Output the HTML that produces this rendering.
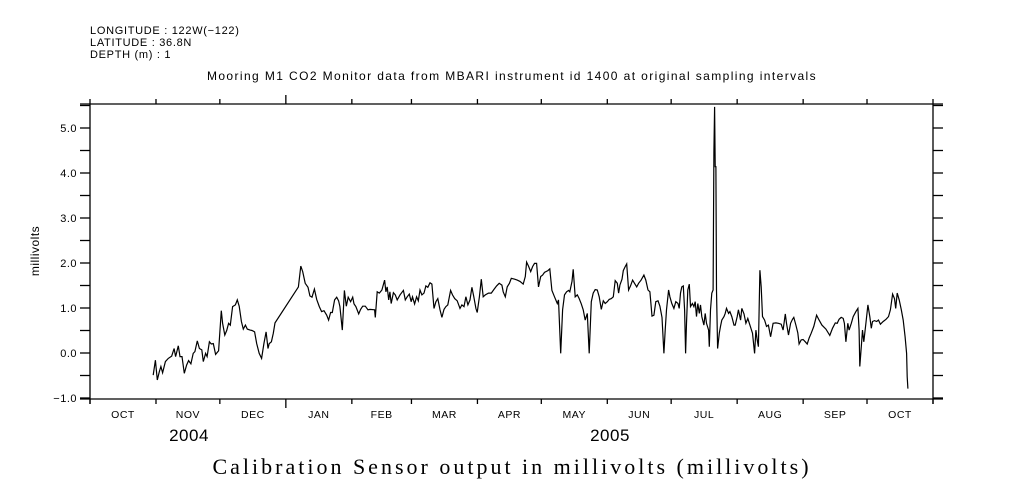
<!DOCTYPE html>
<html><head><meta charset="utf-8"><style>
html,body{margin:0;padding:0;background:#fff;width:1009px;height:504px;overflow:hidden}
svg{display:block}
text{font-family:"Liberation Sans",sans-serif;fill:#000}
</style></head><body>
<svg id="chart" width="1009" height="504" viewBox="0 0 1009 504">
<g font-size="11" letter-spacing="0.7">
<text x="90" y="34">LONGITUDE : 122W(−122)</text>
<text x="90" y="46">LATITUDE : 36.8N</text>
<text x="90" y="58">DEPTH (m) : 1</text>
</g>
<text x="512" y="80" font-size="12" text-anchor="middle" letter-spacing="1.4">Mooring M1 CO2 Monitor data from MBARI instrument id 1400 at original sampling intervals</text>
<text transform="translate(39,251) rotate(-90)" font-size="12" text-anchor="middle" letter-spacing="0.5">millivolts</text>
<text x="512" y="474" font-size="22" text-anchor="middle" style="font-family:'Liberation Serif',serif" letter-spacing="3">Calibration Sensor output in millivolts (millivolts)</text>
<text x="189" y="441" font-size="17" text-anchor="middle" letter-spacing="0.5">2004</text>
<text x="610" y="441" font-size="17" text-anchor="middle" letter-spacing="0.5">2005</text>
<g id="axes"></g>
<path id="series" fill="none" stroke="#000" stroke-width="1.2"/>
</svg>
<script>
const monthLabels=["OCT","NOV","DEC","JAN","FEB","MAR","APR","MAY","JUN","JUL","AUG","SEP","OCT"];
const monthStarts=[0,31,61,92,123,151,182,212,243,273,304,335,365,396];
const yTicks=[-1,0,1,2,3,4,5];
const yTickLabels=["-1.0","0.0","1.0","2.0","3.0","4.0","5.0"];
const days=[29.7,30.7,31.6,32.6,33.3,34.1,35.4,36.8,38.4,39.5,40.2,41.5,42.3,43.2,44.3,45.4,46.3,47.4,48.5,49.3,50.4,51.4,52.5,53.2,54.3,55.0,56.1,57.0,57.9,59.0,60.4,61.7,62.3,63.3,64.2,65.1,65.9,67.0,68.3,69.2,70.1,71.1,72.0,73.0,73.9,75.2,76.1,77.3,78.3,79.5,80.6,81.7,82.7,83.6,84.2,85.2,86.1,86.9,97.9,99.0,99.9,101.1,102.4,103.3,104.3,105.4,106.5,107.7,108.8,109.9,111.2,112.1,113.0,113.8,114.9,115.9,116.8,117.4,118.5,119.5,120.4,121.3,122.4,123.4,124.0,124.9,126.2,127.1,128.1,129.3,130.6,131.5,
133.7,134.0,134.9,135.9,137.1,138.4,139.0,139.6,140.3,140.9,141.5,142.5,143.4,144.3,145.6,147.2,148.1,149.0,150.0,150.9,151.5,152.5,153.4,154.2,155.0,155.9,156.9,157.8,158.7,159.7,160.6,161.6,162.5,163.4,164.4,165.3,166.3,167.2,168.1,169.4,170.3,171.3,172.5,173.8,174.7,175.7,176.6,177.5,178.5,179.4,180.3,181.3,181.9,182.9,183.8,184.7,185.7,187.2,188.5,189.7,191.0,192.2,193.5,194.1,195.1,196.0,197.0,197.9,199.5,200.7,202.0,203.5,204.5,205.1,206.0,207.0,207.9,208.8,209.8,210.7,211.7,212.6,213.5,215.1,216.0,217.0,218.2,219.5,220.1,221.1,222.0,222.9,223.9,224.8,225.4,226.4,227.0,227.9,228.9,229.8,230.8,231.7,232.6,233.6,234.5,235.5,236.4,237.3,238.3,239.2,240.2,241.1,242.0,243.0,243.9,244.9,245.8,246.7,247.7,248.3,248.9,249.9,250.5,251.4,252.1,253.0,253.9,254.9,255.8,256.8,257.7,258.9,260.2,261.1,262.1,263.0,264.0,264.9,265.8,266.8,267.7,268.7,269.6,270.2,270.8,271.8,272.4,
273.3,274.3,275.2,276.2,276.8,277.4,278.0,278.7,279.3,279.8,280.2,280.8,281.5,282.1,283.0,283.7,284.3,284.9,285.5,286.2,286.8,287.4,288.4,289.0,289.6,290.6,290.9,291.5,292.1,292.7,293.1,293.4,293.7,294.0,294.3,294.8,295.6,296.2,296.8,297.8,298.4,299.0,300.0,300.6,301.5,302.5,303.1,304.0,304.6,305.6,306.2,307.2,308.1,309.0,310.0,311.2,312.2,312.8,313.4,314.0,314.7,315.3,315.9,316.9,317.8,318.7,319.7,320.9,322.2,323.4,324.7,325.6,326.6,327.2,328.1,329.1,330.0,330.6,331.6,332.5,333.1,334.1,335.0,336.0,336.9,337.8,338.8,340.0,341.3,342.5,343.8,345.7,347.5,348.8,350.1,351.0,351.9,352.9,353.8,354.4,355.1,356.0,356.6,357.6,358.5,359.8,360.7,361.3,361.6,362.3,362.9,363.5,364.5,365.4,366.3,367.0,367.6,368.5,369.5,370.4,371.3,372.6,373.9,375.1,376.0,377.0,377.9,378.5,379.2,380.1,381.1,382.0,382.9,383.6,383.9,384.2];
const values=[-0.49,-0.16,-0.60,-0.41,-0.30,-0.44,-0.19,-0.12,-0.07,0.10,-0.08,0.16,-0.08,-0.08,-0.45,-0.27,-0.17,-0.24,-0.01,0.03,0.27,0.10,0.07,-0.19,-0.01,-0.08,0.25,0.20,0.21,-0.03,0.05,0.94,0.66,0.40,0.50,0.66,0.62,1.03,1.07,1.18,1.04,0.70,0.53,0.62,0.53,0.51,0.50,0.47,0.21,-0.01,-0.12,0.21,0.47,0.10,0.21,0.25,0.44,0.67,1.47,1.93,1.81,1.55,1.46,1.27,1.24,1.42,1.19,1.03,0.92,0.94,0.84,0.73,0.90,0.90,1.18,1.24,1.16,1.03,0.51,1.39,1.04,1.24,1.14,1.24,1.09,1.03,0.87,0.97,1.04,1.04,0.96,0.97,
0.96,0.79,1.36,1.33,1.40,1.62,1.36,1.47,1.18,1.36,1.10,1.34,1.29,1.18,1.29,1.39,1.18,1.25,1.31,1.14,1.25,1.09,1.25,1.16,1.40,1.29,1.33,1.49,1.46,1.56,1.53,0.99,1.14,1.21,0.96,0.79,0.97,1.03,1.07,1.39,1.29,1.21,1.16,0.99,1.07,1.03,1.25,1.07,1.18,1.46,1.25,0.99,0.90,1.25,1.64,1.25,1.29,1.33,1.33,1.41,1.49,1.55,1.51,1.36,1.25,1.47,1.55,1.66,1.64,1.62,1.59,1.53,1.70,2.02,1.93,1.81,1.92,1.99,1.99,1.47,1.70,1.73,1.79,1.83,1.87,1.39,1.25,1.10,1.18,-0.01,0.96,1.29,1.36,1.39,1.36,1.59,1.86,1.25,1.29,1.21,1.09,0.96,0.73,0.88,-0.01,1.14,1.33,1.41,1.40,1.25,0.97,1.16,1.10,1.14,1.19,1.21,1.25,1.61,1.55,1.33,1.51,1.64,1.83,1.92,1.98,1.40,1.49,1.62,1.55,1.47,1.55,1.62,1.73,1.62,1.40,1.36,0.82,0.84,1.14,1.16,1.04,0.79,-0.01,0.51,0.96,1.40,1.25,
1.10,0.99,1.14,1.10,0.99,1.33,1.47,1.49,0.96,-0.01,0.66,1.40,1.53,1.03,1.10,1.03,1.14,0.81,1.10,0.88,1.07,0.81,0.62,0.88,0.66,0.51,0.14,0.96,1.33,1.40,4.47,5.47,4.14,4.14,1.40,0.10,0.44,0.59,0.73,0.81,0.88,0.99,0.88,0.92,0.81,0.62,0.62,0.81,0.96,0.73,0.99,0.87,0.66,0.77,0.62,0.44,-0.01,0.51,0.29,0.14,1.84,1.47,0.81,0.73,0.59,0.62,0.36,0.66,0.67,0.66,0.64,0.51,0.87,0.66,0.40,0.66,0.75,0.79,0.62,0.45,0.20,0.29,0.30,0.25,0.20,0.33,0.44,0.59,0.84,0.73,0.62,0.53,0.39,0.55,0.67,0.66,0.75,0.79,0.77,0.66,0.25,0.66,0.51,0.66,0.81,0.92,0.99,0.51,-0.30,0.14,0.51,0.25,0.66,1.07,0.81,0.55,0.70,0.72,0.70,0.73,0.64,0.70,0.75,0.81,0.96,1.31,1.21,0.99,1.33,1.18,0.96,0.73,0.36,-0.01,-0.53,-0.79];

const L=90,R=933,T=104,B=399;
const xs=d=>L+d*(R-L)/396;
const ys=v=>353-v*45;
const NS="http://www.w3.org/2000/svg";
const ax=document.getElementById('axes');
function ln(x1,y1,x2,y2,name){const e=document.createElementNS(NS,'line');e.setAttribute('x1',x1);e.setAttribute('y1',y1);e.setAttribute('x2',x2);e.setAttribute('y2',y2);e.setAttribute('stroke','#000');e.setAttribute('stroke-width','1.3');


ax.appendChild(e);}
function tx(x,y,s,anchor,size,name){const e=document.createElementNS(NS,'text');e.setAttribute('x',x);e.setAttribute('y',y);e.setAttribute('text-anchor',anchor);e.setAttribute('font-size',size);e.setAttribute('letter-spacing','0.5');e.textContent=s;


ax.appendChild(e);}
ln(80,T,943,T,'frame-top');ln(80,B,943,B,'frame-bottom');ln(L,T,L,404,'frame-left');ln(R,T,R,404,'frame-right');
monthStarts.forEach((d,i)=>{const x=xs(d);const big=(d===92);
ln(x,T,x,big?95:99,'x-tick-top');ln(x,B,x,big?408:404,'x-tick-bottom');});
monthLabels.forEach((m,i)=>{tx(xs((monthStarts[i]+monthStarts[i+1])/2),418,m,'middle',10.5,'x-tick-label');});
for(let v=-1;v<=5.5;v+=0.5){const y=ys(v);ln(80,y,L,y,'y-tick-left');ln(R,y,943,y,'y-tick-right');}
yTicks.forEach((v,i)=>tx(77,ys(v)+4,yTickLabels[i].replace('-','−'),'end',11,'y-tick-label'));
document.getElementById('series').setAttribute('d',days.map((d,i)=>(i?'L':'M')+xs(d).toFixed(1)+','+ys(values[i]).toFixed(1)).join(''));
</script>
</body></html>
